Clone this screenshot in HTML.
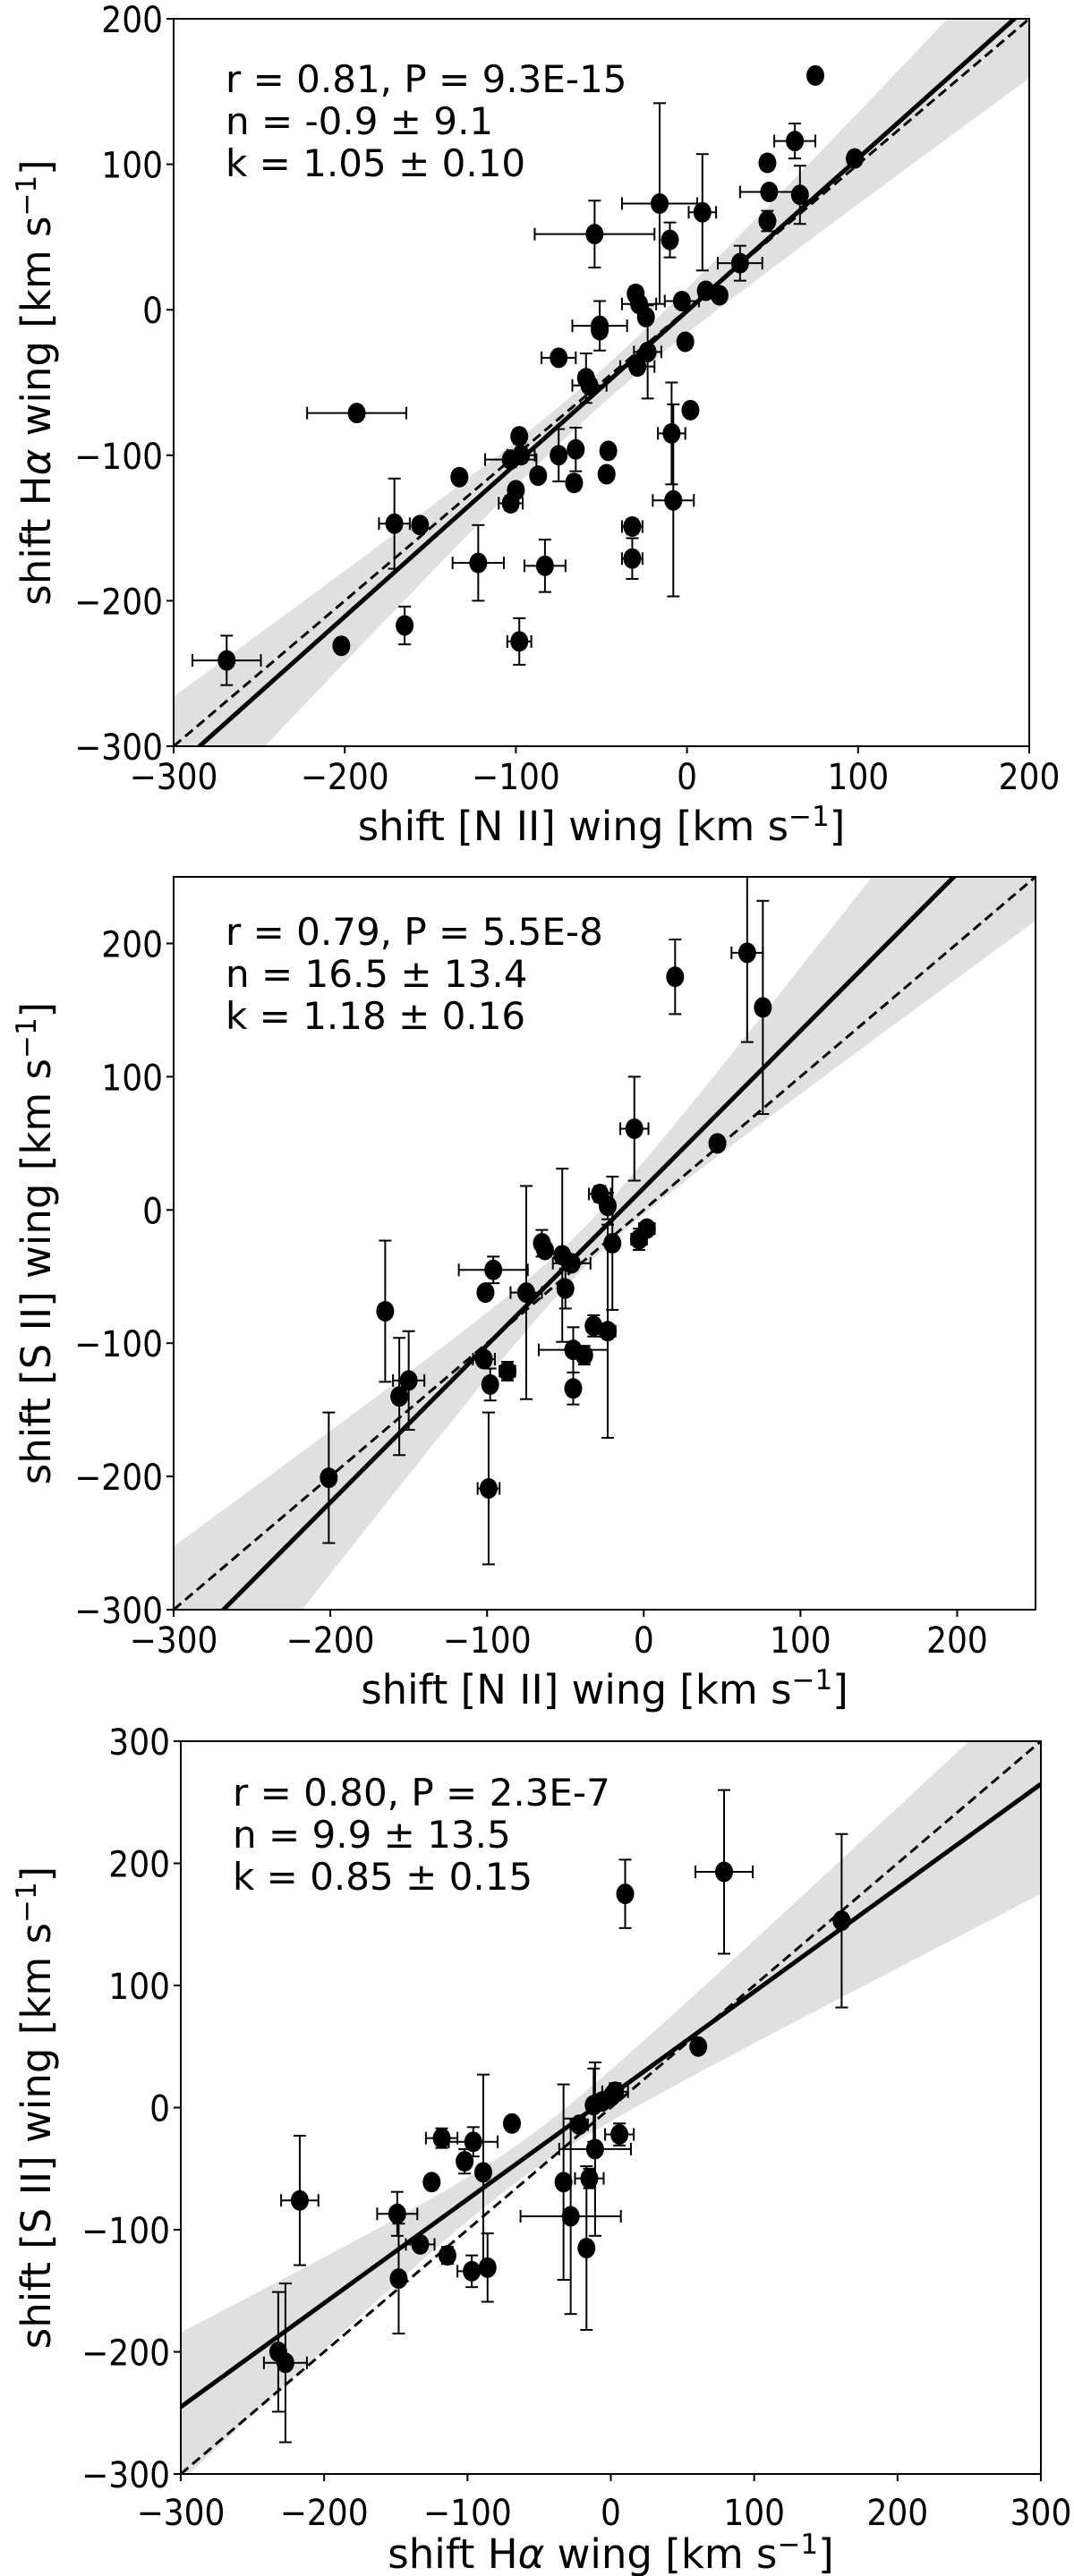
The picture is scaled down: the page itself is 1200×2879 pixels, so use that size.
<!DOCTYPE html>
<html><head><meta charset="utf-8"><style>
html,body{margin:0;padding:0;background:#fff}
svg{display:block}
text{font-family:"DejaVu Sans","Liberation Sans",sans-serif;fill:#000}
</style></head><body>
<svg id="fig" width="1200" height="2879" viewBox="0 0 1200 2879" xmlns="http://www.w3.org/2000/svg"></svg>
<script>
// ---- Panel 1: Halpha vs [N II]
const p1x  = [-269,-202,-193,-171,-156,-165,-133,-122,-98,-103,-100,-103,-97,-98,-87,-75,-65,-66,-83,-75,-59,-57,-54,-51,-51,-47,-46,-32,-32,-29,-30,-28,-24,-23,-16,-10,-3,-1,2,-9,-8,9,11,19,31,47,48,47,66,63,75,98];
const p1y  = [-241,-231,-71,-147,-148,-217,-115,-174,-228,-133,-124,-103,-100,-87,-114,-100,-96,-119,-176,-33,-47,-52,52,-11,-14,-113,-97,-149,-171,-39,11,4,-5,-29,73,48,6,-22,-69,-85,-131,67,13,10,32,61,81,101,79,116,161,104];
const p1xe = [20,0,29,9,4,0,0,15,7,7,0,15,8,0,0,0,0,0,12,10,4,10,35,16,0,0,0,6,6,10,0,10,0,8,22,0,10,0,0,8,12,8,0,0,13,0,17,0,0,12,0,0];
const p1ye = [17,4,3,31,0,13,0,26,16,5,0,5,5,5,0,18,15,5,18,4,17,0,23,17,0,4,0,5,14,5,5,0,0,32,69,12,0,0,0,35,66,40,0,0,12,7,0,5,20,12,4,0];
// ---- Panel 2: [S II] vs [N II]
const p2x  = [-201,-165,-156,-150,-102,-101,-96,-98,-99,-87,-75,-65,-63,-52,-50,-46,-45,-45,-38,-32,-28,-23,-23,-20,-6,-3,2,20,47,66,76];
const p2y  = [-201,-76,-140,-128,-112,-62,-45,-131,-209,-121,-62,-25,-30,-34,-59,-40,-105,-134,-109,-87,12,3,-91,-25,61,-22,-14,175,50,193,152];
const p2xe = [0,0,0,10,7,0,22,0,7,5,10,0,0,0,0,12,22,0,0,0,7,0,5,0,9,5,5,0,0,10,0];
const p2ye = [49,53,44,37,5,4,10,12,57,7,80,10,0,65,15,0,17,12,7,8,6,10,80,50,39,8,0,28,4,67,80];
// ---- Panel 3: [S II] vs Halpha
const p3x  = [-232,-227,-217,-149,-148,-133,-125,-118,-114,-102,-97,-96,-89,-86,-69,-33,-28,-22,-17,-15,-12,-11,-6,1,3,6,10,61,79,161];
const p3y  = [-200,-209,-76,-87,-140,-112,-61,-25,-121,-44,-134,-28,-53,-131,-13,-61,-89,-14,-115,-58,2,-34,5,10,13,-22,175,50,193,153];
const p3xe = [0,15,13,14,0,10,0,11,0,0,10,17,0,0,0,0,35,6,0,10,0,25,0,0,9,10,0,0,20,0];
const p3ye = [49,65,53,18,45,0,4,8,7,10,13,12,80,28,0,80,80,0,67,8,30,71,0,0,7,9,28,4,67,71];
// ---- fits: intercept, slope, band min half-width, band centre, band curvature
const fitN = [-0.9, 16.5, 9.9];
const fitK = [1.05, 1.18, 0.85];
const bandMin = [12, 15, 15];
const bandXm = [-50, -40, -60];
const bandB = [0.0377, 0.1035, 0.0607];
const ticks1 = [-300,-200,-100,0,100,200];
const ticks2 = [-300,-200,-100,0,100,200];
const ticks3 = [-300,-200,-100,0,100,200,300];

const NS="http://www.w3.org/2000/svg";
const fig=document.getElementById('fig');
function mk(tag,attrs,parent){const e=document.createElementNS(NS,tag);for(const k in attrs)e.setAttribute(k,attrs[k]);(parent||fig).appendChild(e);return e;}
function txt(parent,x,y,str,anchor,size,rot,sx){
  const t=mk('text',{x:0,y:0,'text-anchor':anchor,'font-size':size,transform:`translate(${x},${y})`+(rot?` rotate(${rot})`:'')+` scale(${sx||1},1)`},parent);
  t.innerHTML=str;return t;}
const fmt=v=>v<0?'\u2212'+(-v):''+v;

function panel(i,cfg){
  const g=mk('g',{});
  
  
  const X=v=>cfg.L+(v-cfg.x0)/(cfg.x1-cfg.x0)*(cfg.R-cfg.L);
  const Y=v=>cfg.B-(v-cfg.y0)/(cfg.y1-cfg.y0)*(cfg.B-cfg.T);
  const cid='clip'+i;
  const cp=mk('clipPath',{id:cid},g);mk('rect',{x:cfg.L,y:cfg.T,width:cfg.R-cfg.L,height:cfg.B-cfg.T},cp);
  const plot=mk('g',{'clip-path':`url(#${cid})`},g);
  const n=fitN[i],k=fitK[i];
  const hw=x=>Math.sqrt(bandMin[i]*bandMin[i]+bandB[i]*(x-bandXm[i])*(x-bandXm[i]));
  let up=[],lo=[];
  for(let s=0;s<=60;s++){const x=cfg.x0+(cfg.x1-cfg.x0)*s/60;const f=n+k*x;up.push(X(x)+','+Y(f+hw(x)));lo.unshift(X(x)+','+Y(f-hw(x)));}
  const band=mk('polygon',{points:up.concat(lo).join(' '),fill:'#e0e0e0'},plot);
  
  
  const one=mk('line',{x1:X(cfg.x0),y1:Y(cfg.x0),x2:X(cfg.x1),y2:Y(cfg.x1),stroke:'#000','stroke-width':3,'stroke-dasharray':'11,6'},plot);
  
  
  const fl=mk('line',{x1:X(cfg.x0),y1:Y(n+k*cfg.x0),x2:X(cfg.x1),y2:Y(n+k*cfg.x1),stroke:'#000','stroke-width':5},plot);
  
  
  for(let j=0;j<cfg.xs.length;j++){
    const pg=mk('g',{stroke:'#000','stroke-width':2},plot);
    
    
    const cx=X(cfg.xs[j]),cy=Y(cfg.ys[j]);
    if(cfg.xe[j]>0){const a=X(cfg.xs[j]-cfg.xe[j]),b=X(cfg.xs[j]+cfg.xe[j]);
      mk('line',{x1:a,y1:cy,x2:b,y2:cy},pg);mk('line',{x1:a,y1:cy-7,x2:a,y2:cy+7},pg);mk('line',{x1:b,y1:cy-7,x2:b,y2:cy+7},pg);}
    if(cfg.ye[j]>0){const a=Y(cfg.ys[j]+cfg.ye[j]),b=Y(cfg.ys[j]-cfg.ye[j]);
      mk('line',{x1:cx,y1:a,x2:cx,y2:b},pg);mk('line',{x1:cx-7,y1:a,x2:cx+7,y2:a},pg);mk('line',{x1:cx-7,y1:b,x2:cx+7,y2:b},pg);}
    mk('ellipse',{cx:cx,cy:cy,rx:10,ry:11.5,fill:'#000',stroke:'none'},pg);
  }
  const fr=mk('rect',{x:cfg.L,y:cfg.T,width:cfg.R-cfg.L,height:cfg.B-cfg.T,fill:'none',stroke:'#000','stroke-width':2},g);
  
  
  cfg.xt.forEach(v=>{if(v<cfg.x0||v>cfg.x1)return;mk('line',{x1:X(v),y1:cfg.B,x2:X(v),y2:cfg.B+8,stroke:'#000','stroke-width':2},g);
    const t=txt(g,X(v),cfg.B+cfg.xtl,fmt(v),'middle',40,0,0.9);
    
    });
  cfg.yt.forEach(v=>{if(v<cfg.y0||v>cfg.y1)return;mk('line',{x1:cfg.L-8,y1:Y(v),x2:cfg.L,y2:Y(v),stroke:'#000','stroke-width':2},g);
    const t=txt(g,cfg.L-12,Y(v)+15,fmt(v),'end',40,0,0.9);
    
    });
  const xl=txt(g,(cfg.L+cfg.R)/2,cfg.B+cfg.xll,cfg.xlab,'middle',45);
  
  
  const yl=txt(g,56,(cfg.T+cfg.B)/2,cfg.ylab,'middle',45,-90);
  
  
  cfg.ann.forEach((s,m)=>{const t=txt(g,cfg.L+58,cfg.T+cfg.a0+m*47,s,'start',42);
    
    });
}
const unit='[km s<tspan dy="-16" font-size="31">\u22121</tspan><tspan dy="16">]</tspan>';
panel(0,{L:194,R:1150,T:21,B:834,x0:-300,x1:200,y0:-300,y1:200,xs:p1x,ys:p1y,xe:p1xe,ye:p1ye,xt:ticks1,yt:ticks1,xtl:48,xll:105,
  xlab:'shift [N II] wing '+unit,ylab:'shift H<tspan font-style="italic">\u03b1</tspan>  wing '+unit,a0:82,
  ann:['r = 0.81, P = 9.3E-15','n = -0.9 \u00b1 9.1','k = 1.05 \u00b1 0.10']});
panel(1,{L:194,R:1157,T:980,B:1799,x0:-300,x1:250,y0:-300,y1:250,xs:p2x,ys:p2y,xe:p2xe,ye:p2ye,xt:ticks2,yt:ticks2,xtl:48,xll:105,
  xlab:'shift [N II] wing '+unit,ylab:'shift [S II]  wing '+unit,a0:76,
  ann:['r = 0.79, P = 5.5E-8','n = 16.5 \u00b1 13.4','k = 1.18 \u00b1 0.16']});
panel(2,{L:202,R:1163,T:1946,B:2765,x0:-300,x1:300,y0:-300,y1:300,xs:p3x,ys:p3y,xe:p3xe,ye:p3ye,xt:ticks3,yt:ticks3,xtl:57,xll:105,
  xlab:'shift H<tspan font-style="italic">\u03b1</tspan> wing '+unit,ylab:'shift [S II]  wing '+unit,a0:72,
  ann:['r = 0.80, P = 2.3E-7','n = 9.9 \u00b1 13.5','k = 0.85 \u00b1 0.15']});
</script>
</body></html>
